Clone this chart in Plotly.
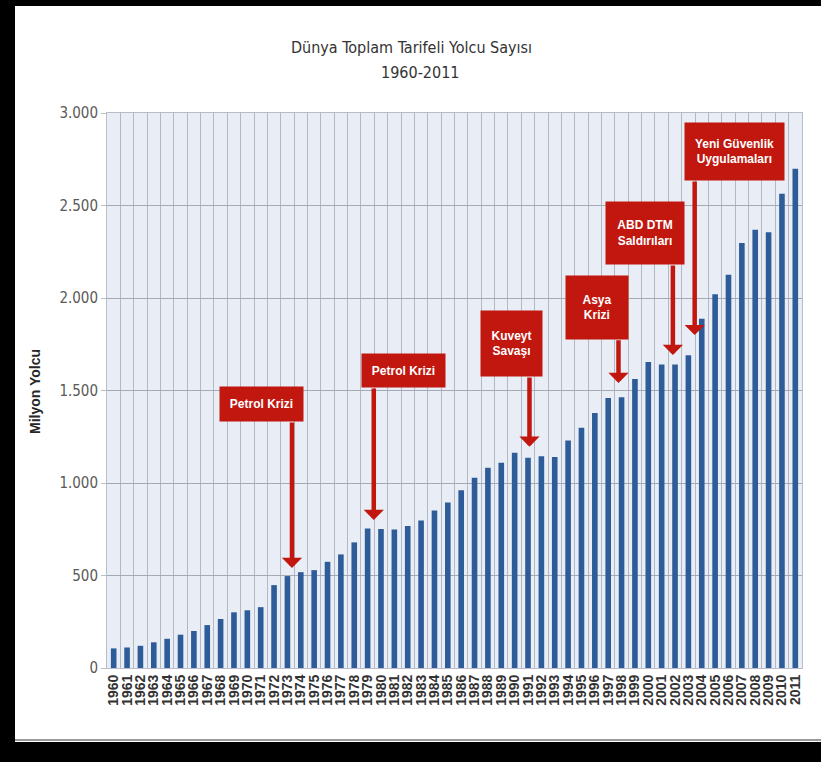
import plotly.graph_objects as go

# ---------------- data ----------------
years = list(range(1960, 2012))
passengers = [106, 111, 120, 139, 158, 180, 200, 232, 265, 301,
              312, 329, 448, 497, 518, 529, 574, 614, 679, 754,
              751, 749, 767, 797, 851, 895, 961, 1028, 1082, 1109,
              1163, 1136, 1145, 1140, 1230, 1298, 1379, 1460, 1464, 1562,
              1654, 1640, 1640, 1690, 1888, 2020, 2126, 2297, 2369, 2356,
              2563, 2698]
event_labels = ["Petrol Krizi", "Petrol Krizi", "Kuveyt<br>Savaşı", "Asya<br>Krizi",
                "ABD DTM<br>Saldırıları", "Yeni Güvenlik<br>Uygulamaları"]
y_ticks = [0, 500, 1000, 1500, 2000, 2500, 3000]

# ---------------- layout geometry ----------------
W, H = 821, 762
L, R, T, B = 107, 19, 113, 94
PW, PH = W - L - R, H - T - B


def px_x(p):
    return (p - L) / PW


def px_y(p):
    return (H - B - p) / PH


# annotation placement (pixels for boxes / data for arrows)
box_cx = [261.5, 403, 511, 596.5, 644.5, 734]
box_cy = [404, 370.5, 343.3, 307.3, 232.8, 151.3]
box_w = [83, 83, 61, 62, 78, 99]
box_h = [34, 33, 65, 63, 62, 57]
arrow_x = [1973.34, 1979.46, 1991.11, 1997.77, 2001.84, 2003.47]
arrow_tail = [1335, 1519, 1578, 1780, 2184, 2638]
arrow_tip = [541, 800, 1196, 1541, 1692, 1800]

RED = "#c1170f"
SANS = "Liberation Sans, Arial, sans-serif"

fig = go.Figure()
fig.add_trace(go.Bar(x=years, y=passengers, marker=dict(color="#2e5c98", line=dict(width=0)),
                     width=0.42, showlegend=False))

annotations = []
# title
annotations.append(dict(text="Dünya Toplam Tarifeli Yolcu Sayısı", xref="paper", yref="paper",
                        x=px_x(411), y=px_y(47), showarrow=False, xanchor="center", yanchor="middle",
                        font=dict(family="DejaVu Sans Condensed, DejaVu Sans, sans-serif", size=16, color="#333333")))
annotations.append(dict(text="1960-2011", xref="paper", yref="paper",
                        x=px_x(420), y=px_y(72), showarrow=False, xanchor="center", yanchor="middle",
                        font=dict(family="DejaVu Sans Condensed, DejaVu Sans, sans-serif", size=16, color="#333333")))
# y title
annotations.append(dict(text="<b>Milyon Yolcu</b>", xref="paper", yref="paper",
                        x=px_x(35), y=px_y(392), showarrow=False, textangle=-90,
                        xanchor="center", yanchor="middle",
                        font=dict(family=SANS, size=14, color="#262626")))

for i, lab in enumerate(event_labels):
    # arrow
    annotations.append(dict(text="", x=arrow_x[i], y=arrow_tip[i], xref="x", yref="y",
                            ax=arrow_x[i], ay=arrow_tail[i], axref="x", ayref="y",
                            showarrow=True, arrowhead=1, arrowsize=0.75, arrowwidth=4.5,
                            arrowcolor=RED, standoff=0))
    # box
    annotations.append(dict(text="<b>%s</b>" % lab, xref="paper", yref="paper",
                            x=px_x(box_cx[i]), y=px_y(box_cy[i]), showarrow=False,
                            xanchor="center", yanchor="middle", width=box_w[i], height=box_h[i],
                            bgcolor=RED, borderpad=0, align="center", valign="middle",
                            font=dict(family=SANS, size=12, color="white")))

shapes = [
    dict(type="rect", xref="paper", yref="paper", x0=px_x(-5), x1=px_x(15), y0=px_y(H + 5), y1=px_y(-5),
         fillcolor="black", line=dict(width=0), layer="above"),
    dict(type="rect", xref="paper", yref="paper", x0=px_x(-5), x1=px_x(W + 5), y0=px_y(6), y1=px_y(-5),
         fillcolor="black", line=dict(width=0), layer="above"),
    dict(type="rect", xref="paper", yref="paper", x0=px_x(-5), x1=px_x(W + 5), y0=px_y(H + 5), y1=px_y(742),
         fillcolor="black", line=dict(width=0), layer="above"),
    dict(type="line", xref="paper", yref="paper", x0=px_x(15), x1=px_x(W), y0=px_y(740), y1=px_y(740),
         line=dict(color="#9a9a9a", width=2), layer="above"),
]

fig.update_layout(
    width=W, height=H,
    margin=dict(l=L, r=R, t=T, b=B, pad=0),
    paper_bgcolor="white",
    plot_bgcolor="#e9edf6",
    separators=",.",
    annotations=annotations,
    shapes=shapes,
    showlegend=False,
    xaxis=dict(
        range=[1959.5, 2011.5],
        tickmode="array", tickvals=years, ticktext=[str(y) for y in years],
        tickangle=-90,
        tickfont=dict(family=SANS, size=14, color="#333333", weight="bold"),
        showgrid=False, zeroline=False,
        showline=True, linecolor="#b9bdc6", linewidth=1, mirror=True,
        ticks="",
        minor=dict(tick0=1959.5, dtick=1, showgrid=True, gridcolor="#b3b8c3", gridwidth=1, ticks=""),
    ),
    yaxis=dict(
        range=[0, 3000],
        tickmode="array", tickvals=y_ticks,
        tickformat=",d",
        tickfont=dict(family="DejaVu Sans Condensed, DejaVu Sans, sans-serif", size=15, color="#595959"),
        showgrid=True, gridcolor="#a4a9b4", gridwidth=1, zeroline=False,
        showline=True, linecolor="#b9bdc6", linewidth=1, mirror=True,
        ticks="outside", ticklen=5, tickcolor="#b9bdc6",
    ),
)

fig.write_html("out.html")
